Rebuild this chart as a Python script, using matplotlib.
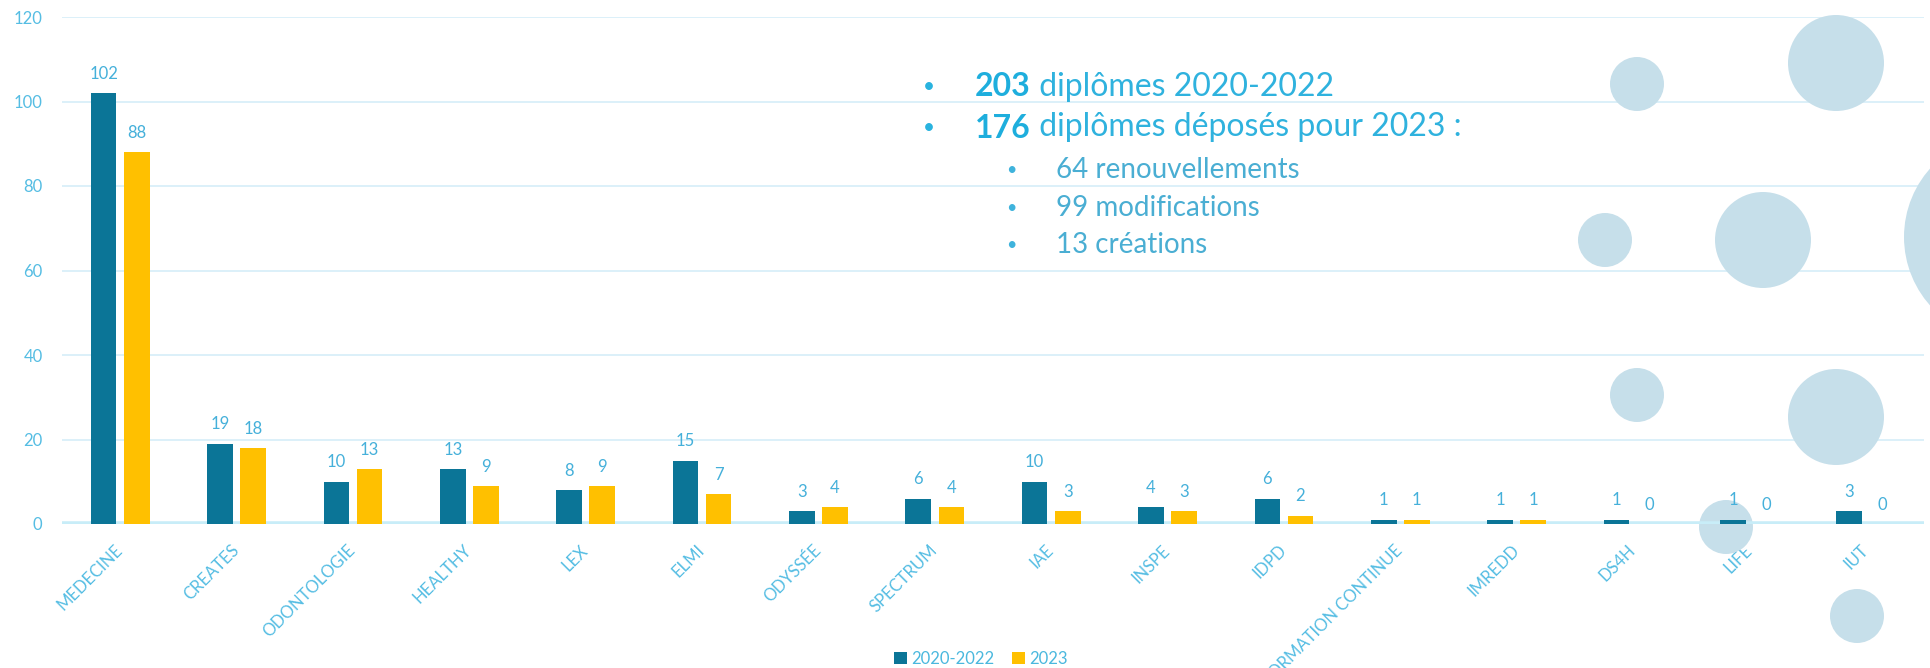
import matplotlib
matplotlib.use("Agg")
import matplotlib.pyplot as plt
from matplotlib.patches import Ellipse, Patch
import numpy as np

plt.rcParams['font.family'] = ['Lato', 'DejaVu Sans']

# data
categories = ["MEDECINE", "CREATES", "ODONTOLOGIE", "HEALTHY", "LEX", "ELMI",
              "ODYSSÉE", "SPECTRUM", "IAE", "INSPE", "IDPD", "FORMATION CONTINUE",
              "IMREDD", "DS4H", "LIFE", "IUT"]
v_2020_2022 = [102, 19, 10, 13, 8, 15, 3, 6, 10, 4, 6, 1, 1, 1, 1, 3]
v_2023 = [88, 18, 13, 9, 9, 7, 4, 4, 3, 3, 2, 1, 1, 0, 0, 0]
series_names = ["2020-2022", "2023"]
yticks = [0, 20, 40, 60, 80, 100, 120]

# text block on the slide
main_lines = [("203", " diplômes 2020-2022"),
              ("176", " diplômes déposés pour 2023 :")]
sub_lines = ["64 renouvellements", "99 modifications", "13 créations"]

# decorative bubbles (pixel x, pixel y, radius) on the slide background
bubbles = [(1637, 84, 27), (1836, 63, 48), (1605, 240, 27), (1763, 240, 48),
           (2007, 237, 103), (1637, 395, 27), (1836, 417, 48), (1726, 527, 27),
           (1857, 616, 27)]

W, H = 1930, 668
BLUE = "#0b7597"
YELLOW = "#ffc000"
TICK = "#55bde3"
LABEL = "#45b0da"
GRID = "#d6eef8"

fig = plt.figure(figsize=(W / 100, H / 100), dpi=100)
ax = fig.add_axes([62 / W, 1 - 524 / H, (1924 - 62) / W, (524 - 17) / H])

x = np.arange(len(categories))
w = 0.22
off = 0.142
b1 = ax.bar(x - off, v_2020_2022, w, color=BLUE, zorder=3)
b2 = ax.bar(x + off, v_2023, w, color=YELLOW, zorder=3)

for bars, vals in ((b1, v_2020_2022), (b2, v_2023)):
    for r, v in zip(bars, vals):
        ax.annotate(str(v), (r.get_x() + r.get_width() / 2, v), xytext=(0, 14),
                    textcoords="offset points", ha="center", va="center",
                    fontsize=12, color=LABEL, zorder=4)

ax.set_xlim(-0.5, len(categories) - 0.5)
ax.set_ylim(0, 120)
ax.set_yticks(yticks)
ax.set_xticks(x)
ax.set_xticklabels(categories, rotation=45, ha="right", va="center",
                   rotation_mode="anchor", fontsize=12, color=TICK)
ax.tick_params(axis="y", length=0, pad=14, labelsize=12, labelcolor=TICK)
ax.tick_params(axis="x", length=0, pad=17)
for s in ax.spines.values():
    s.set_visible(False)
for t in yticks[1:]:
    ax.axhline(t, color=GRID, lw=1.2, zorder=0.5)
ax.axhline(0, color="#c8edf8", lw=4, zorder=2.5)

for (bx, by, br) in bubbles:
    e = Ellipse((bx / W, 1 - by / H), 2 * br / W, 2 * br / H,
                transform=fig.transFigure, facecolor="#c6dfea", edgecolor="none",
                clip_on=False, zorder=2)
    ax.add_artist(e)

# slide text
main_y = [87, 128]
for (num, rest), yy in zip(main_lines, main_y):
    fig.text(929 / W, 1 - yy / H, "•", ha="center", va="center",
             fontsize=15, color="#29b3df")
    t = fig.text(975 / W, 1 - yy / H, num, ha="left", va="center",
                 fontsize=23, fontweight="bold", color="#1eaedd")
    ax.annotate(rest, xy=(1, 0), xycoords=t, ha="left", va="bottom",
                fontsize=23, color="#2fb2de", annotation_clip=False)

sub_y = [170, 208, 245]
for s, yy in zip(sub_lines, sub_y):
    fig.text(1011 / W, 1 - yy / H, "•", ha="center", va="center",
             fontsize=13, color="#3fb3dc")
    fig.text(1056 / W, 1 - yy / H, s, ha="left", va="center",
             fontsize=20, color="#4aaed3")

handles = [Patch(facecolor=BLUE), Patch(facecolor=YELLOW)]
fig.legend(handles, series_names, loc="center", bbox_to_anchor=(981 / W, 1 - 659 / H),
           ncol=2, frameon=False, fontsize=12, labelcolor="#4ab8de",
           handlelength=0.75, handleheight=0.75, handletextpad=0.25,
           columnspacing=1.1, borderpad=0, borderaxespad=0)

fig.savefig("out.png", dpi=100)
